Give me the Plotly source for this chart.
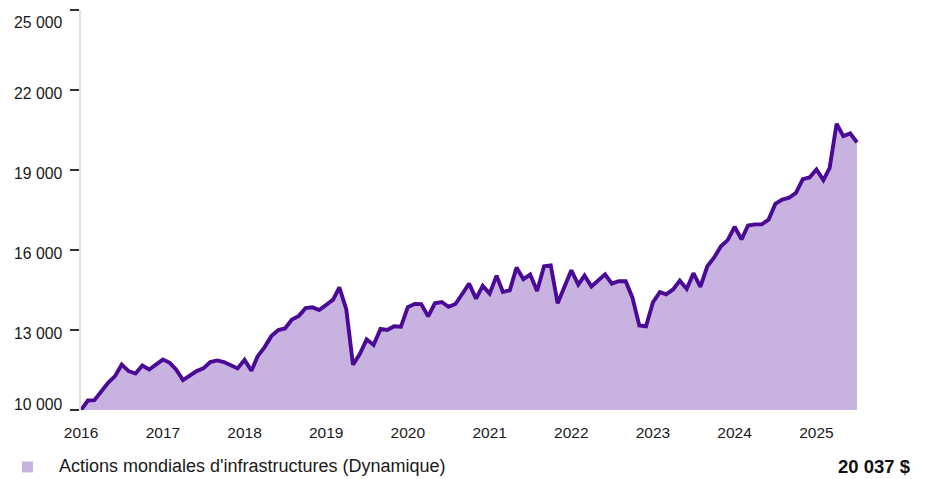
import plotly.graph_objects as go
import pandas as pd

# ---- data (monthly values) ----
start_month = "2016-01-01"
values_2016 = [10000, 10356, 10370, 10700, 11020, 11270, 11700, 11460, 11370, 11670, 11520, 11700]
values_2017 = [11890, 11770, 11520, 11120, 11300, 11460, 11560, 11800, 11860, 11800, 11680, 11560]
values_2018 = [11880, 11470, 12020, 12360, 12770, 13000, 13060, 13390, 13530, 13820, 13850, 13750]
values_2019 = [13940, 14140, 14600, 13770, 11700, 12110, 12650, 12440, 13040, 13000, 13140, 13120]
values_2020 = [13860, 13980, 13970, 13510, 14000, 14050, 13870, 13975, 14360, 14740, 14175, 14655]
values_2021 = [14365, 15040, 14425, 14490, 15345, 14905, 15080, 14460, 15390, 15420, 14000, 14600]
values_2022 = [15240, 14700, 15040, 14630, 14850, 15085, 14740, 14830, 14830, 14220, 13170, 13140]
values_2023 = [14040, 14420, 14340, 14520, 14850, 14540, 15130, 14620, 15390, 15710, 16140, 16370]
values_2024 = [16870, 16400, 16920, 16960, 16960, 17140, 17730, 17890, 17960, 18140, 18660, 18720]
values_2025 = [19020, 18620, 19080, 20735, 20270, 20370, 20037]

series_name = "Actions mondiales d'infrastructures (Dynamique)"
final_value_label = "20 037 $"

y_tick_values = [10000, 13000, 16000, 19000, 22000, 25000]
y_tick_labels = ["10 000", "13 000", "16 000", "19 000", "22 000", "25 000"]
x_tick_years = [2016, 2017, 2018, 2019, 2020, 2021, 2022, 2023, 2024, 2025]

values = (values_2016 + values_2017 + values_2018 + values_2019 + values_2020
          + values_2021 + values_2022 + values_2023 + values_2024 + values_2025)
dates = pd.date_range(start_month, periods=len(values), freq="MS")

# ---- layout geometry (page body has an 8px margin) ----
OFF = 8
W, H = 925 - OFF, 479 - OFF
ML, MR, MT, MB = 81 - OFF, 44, 10 - OFF, 68.5
plot_w = W - ML - MR
plot_h = H - MT - MB
px_per_year = 81.7
x_start = pd.Timestamp(start_month)
x_end = x_start + pd.Timedelta(days=plot_w / px_per_year * 365.25)

LINE = "#4a0a96"
FILL = "#c8b3e0"
FONT = "Liberation Sans, Arial, sans-serif"

fig = go.Figure()
fig.add_trace(go.Scatter(
    x=dates, y=values, mode="lines", name=series_name,
    line=dict(color=LINE, width=3.9),
    fill="tozeroy", fillcolor=FILL,
    showlegend=False, hoverinfo="x+y",
))

# convert reference-page pixels to paper coordinates
def px_to_paper_x(px):
    return (px - OFF - ML) / plot_w

def px_to_paper_y(py):
    return (H - MB - (py - OFF)) / plot_h

annotations = []
# y-axis labels (kept inside the plot's vertical extent like the original)
for v, t in zip(y_tick_values, y_tick_labels):
    tick_py = MT + (25000 - v) / 15000 * plot_h
    center = min(max(tick_py + 3, MT + 12), MT + plot_h - 6)
    annotations.append(dict(
        xref="paper", yref="y", x=0, y=v, xanchor="right", yanchor="middle",
        xshift=-16, yshift=-(center - tick_py), text=t, showarrow=False,
        font=dict(family=FONT, size=15.8, color="#1a1a1a"),
    ))

# legend row
annotations.append(dict(
    xref="paper", yref="paper", x=px_to_paper_x(57), y=px_to_paper_y(467),
    xanchor="left", yanchor="middle", text=series_name, showarrow=False,
    font=dict(family=FONT, size=18, color="#1a1a1a"),
))
annotations.append(dict(
    xref="paper", yref="paper", x=px_to_paper_x(913), y=px_to_paper_y(467),
    xanchor="right", yanchor="middle", text="<b>" + final_value_label + "</b>",
    showarrow=False, font=dict(family=FONT, size=18.5, color="#111111"),
))

shapes = [dict(
    type="rect", xref="paper", yref="paper",
    x0=px_to_paper_x(22), x1=px_to_paper_x(33),
    y0=px_to_paper_y(473), y1=px_to_paper_y(462),
    fillcolor=FILL, line=dict(width=0),
)]

fig.update_layout(
    width=W, height=H, autosize=False,
    margin=dict(l=ML, r=MR, t=MT, b=MB, pad=0),
    paper_bgcolor="white", plot_bgcolor="white",
    font=dict(family=FONT, size=15.5, color="#1a1a1a"),
    annotations=annotations, shapes=shapes,
    xaxis=dict(
        range=[x_start, x_end], showgrid=False, zeroline=False, showline=False,
        tickvals=[pd.Timestamp(f"{y}-01-01") for y in x_tick_years],
        ticktext=[str(y) for y in x_tick_years],
        ticks="outside", ticklen=8, tickcolor="rgba(0,0,0,0)",
        tickfont=dict(family=FONT, size=15.5, color="#1a1a1a"),
    ),
    yaxis=dict(
        range=[10000, 25000], showgrid=False, zeroline=False,
        showline=True, linecolor="#e4dfda", linewidth=2,
        tickvals=y_tick_values, ticks="outside", ticklen=9,
        tickcolor="#333333", tickwidth=1.5, showticklabels=False,
    ),
)

fig.write_html("out.html")
